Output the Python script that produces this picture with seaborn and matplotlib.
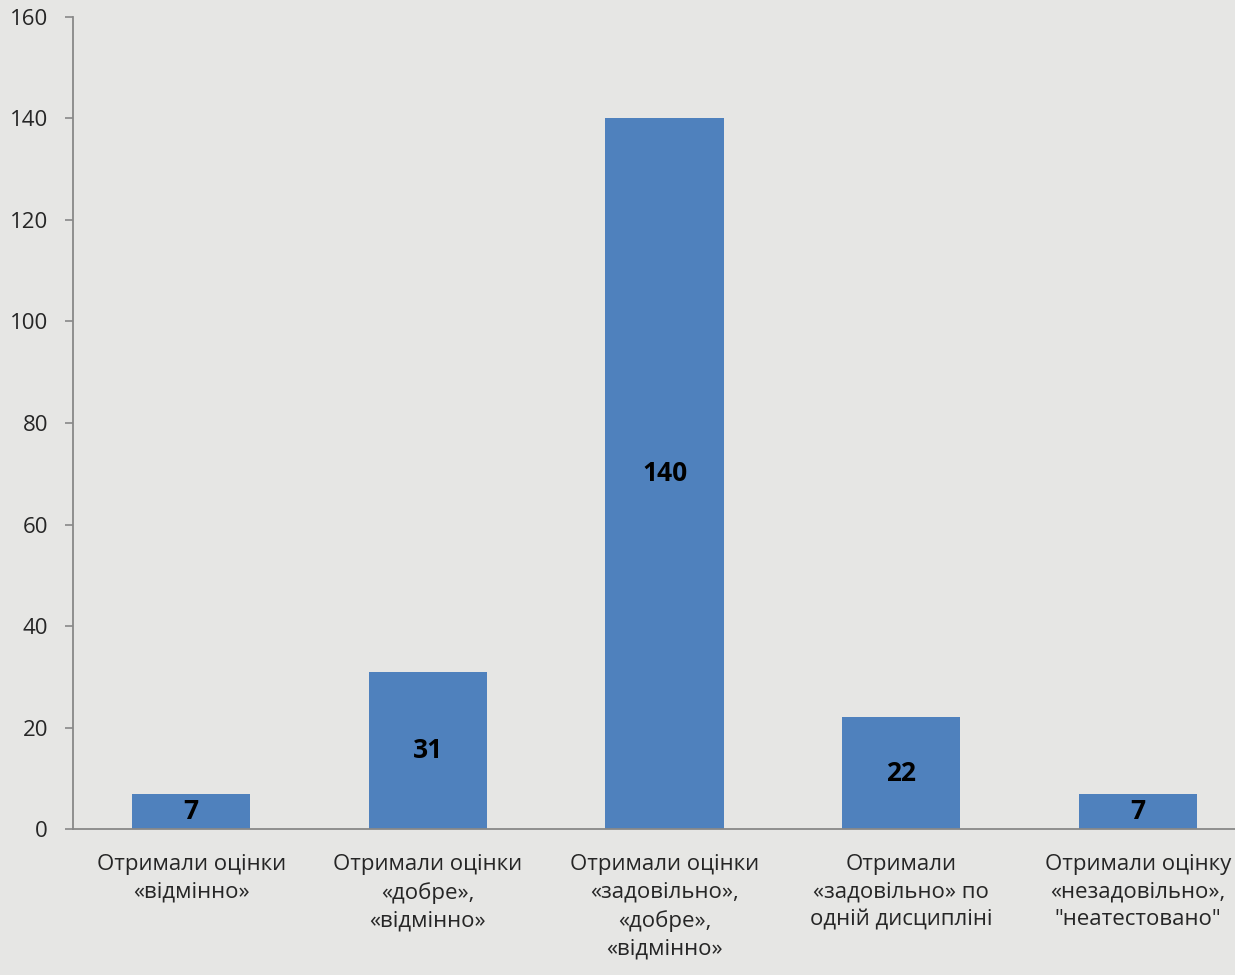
import matplotlib
matplotlib.use("Agg")
import matplotlib.pyplot as plt
import seaborn as sns
import pandas as pd

# data
categories = [
    "Отримали оцінки\n«відмінно»",
    "Отримали оцінки\n«добре»,\n«відмінно»",
    "Отримали оцінки\n«задовільно»,\n«добре»,\n«відмінно»",
    "Отримали\n«задовільно» по\nодній дисципліні",
    "Отримали оцінку\n«незадовільно»,\n\"неатестовано\"",
]
values = [7, 31, 140, 22, 7]
y_ticks = [0, 20, 40, 60, 80, 100, 120, 140, 160]

df = pd.DataFrame({"cat": categories, "val": values})

sns.set_style("white")
plt.rcParams["font.family"] = ["Open Sans", "DejaVu Sans"]

bg = "#e6e6e4"
fig = plt.figure(figsize=(12.35, 9.75), dpi=100, facecolor=bg)
ax = fig.add_axes([0.0591, 0.1497, 0.958, 0.8329])
ax.set_facecolor(bg)

sns.barplot(data=df, x="cat", y="val", color="#4F81BD", saturation=1,
            width=0.5, linewidth=0, ax=ax)

# value labels in the middle of each bar
for i, v in enumerate(values):
    ax.text(i, v / 2, str(v), ha="center", va="center",
            fontsize=19, fontweight="bold", color="black")

ax.set_ylim(0, 160)
ax.set_xlim(-0.5, 4.5)
ax.set_yticks(y_ticks)
ax.set_xlabel("")
ax.set_ylabel("")

for s in ["top", "right"]:
    ax.spines[s].set_visible(False)
for s in ["left", "bottom"]:
    ax.spines[s].set_color("#888888")
    ax.spines[s].set_linewidth(1.3)

ax.set_xticks([-0.5, 0.5, 1.5, 2.5, 3.5], minor=True)
ax.tick_params(axis="x", which="major", length=0, pad=18, labelsize=16)
ax.tick_params(axis="x", which="minor", length=6, color="#888888", width=1.2)
ax.tick_params(axis="y", length=6, color="#888888", width=1.2, pad=12,
               labelsize=16, left=True)
for lbl in ax.get_xticklabels():
    lbl.set_linespacing(1.42)

fig.savefig("out.png", dpi=100, facecolor=bg)
